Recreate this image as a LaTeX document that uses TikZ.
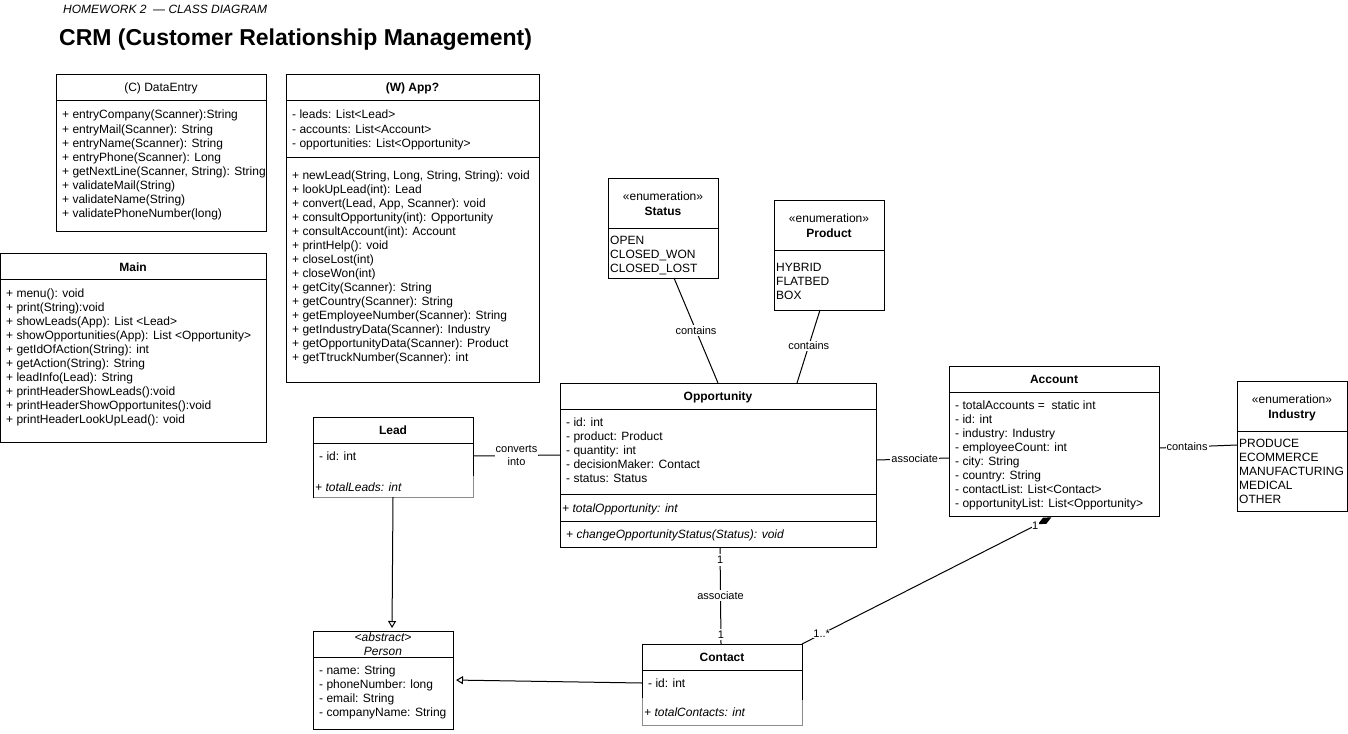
\documentclass[tikz,border=0pt]{standalone}
\usepackage{fontspec}
\setmainfont{Liberation Sans}
\usetikzlibrary{arrows.meta,calc}
\definecolor{lightedge}{HTML}{8C8C8C}
\tikzset{
 cls/.style={draw, line width=1pt, anchor=north west, inner sep=0pt, outer sep=0pt},
 clsnd/.style={anchor=north west, inner sep=0pt, outer sep=0pt},
 txt/.style={anchor=base west, inner sep=0pt, font=\fontsize{12}{14}\selectfont},
 ttl/.style={anchor=base, inner sep=0pt, font=\fontsize{12}{14}\selectfont\bfseries},
 ttlplain/.style={anchor=base, inner sep=0pt, font=\fontsize{12}{14}\selectfont},
 ttlit/.style={anchor=base, inner sep=0pt, font=\fontsize{12}{14}\selectfont\itshape},
 div/.style={line width=1pt},
 edge/.style={line width=1pt, draw=black},
 lbl/.style={font=\fontsize{11}{13}\selectfont, fill=white, inner sep=1pt},
 gen/.style={edge, -{Triangle[open, length=7pt, width=8pt]}, shorten >=3pt},
 comp/.style={edge, -{Diamond[length=15pt, width=7pt]}, shorten >=3pt},
}
\newcommand\umlrows[4]{\foreach \t [count=\i from 0] in {#4} {\node[txt] (#1-\i) at (#2,{#3+14*\i}) {\t};}}
\begin{document}
\begin{tikzpicture}[x=1pt,y=-1pt]
\fill[white] (0,0) rectangle (1348,733);
\useasboundingbox (0,0) rectangle (1348,733);

% titles
\node[anchor=base west, inner sep=0pt, font=\fontsize{12}{14}\selectfont\itshape] (subtitle) at (63,14) {HOMEWORK 2\ \ — CLASS DIAGRAM};
\node[anchor=base west, inner sep=0pt, font=\fontsize{23}{27}\selectfont\bfseries] (title) at (59,46) {CRM (Customer Relationship Management)};

% DataEntry
\node[cls, minimum width=210pt, minimum height=156pt] (dataentry) at (56,75) {};
\draw[div] (56,101) -- (266,101);
\node[ttlplain] (dataentry-t) at (161,92) {(C) DataEntry};
\begin{scope}
\clip (56,101) rectangle (264.5,231);
\umlrows{de}{62}{119}{{+ entryCompany(Scanner):String},{+ entryMail(Scanner): String},{+ entryName(Scanner): String},{+ entryPhone(Scanner): Long},{+ getNextLine(Scanner, String): String},{+ validateMail(String)},{+ validateName(String)},{+ validatePhoneNumber(long)}}
\end{scope}

% App
\node[cls, minimum width=253pt, minimum height=307pt] (app) at (286,75) {};
\draw[div] (286,101) -- (539,101);
\draw[div] (286,157) -- (539,157);
\node[ttl] (app-t) at (412.5,92) {(W) App?};
\umlrows{appa}{292}{119}{{- leads: List<Lead>},{- accounts: List<Account>},{- opportunities: List<Opportunity>}}
\umlrows{appm}{292}{179}{{+ newLead(String, Long, String, String): void},{+ lookUpLead(int): Lead},{+ convert(Lead, App, Scanner): void},{+ consultOpportunity(int): Opportunity},{+ consultAccount(int): Account},{+ printHelp(): void},{+ closeLost(int)},{+ closeWon(int)},{+ getCity(Scanner): String},{+ getCountry(Scanner): String},{+ getEmployeeNumber(Scanner): String},{+ getIndustryData(Scanner): Industry},{+ getOpportunityData(Scanner): Product},{+ getTtruckNumber(Scanner): int}}

% Main
\node[cls, minimum width=265.5pt, minimum height=189pt] (main) at (0.5,253) {};
\draw[div] (0.5,279) -- (266,279);
\node[ttl] (main-t) at (133,271) {Main};
\umlrows{mn}{6}{297}{{+ menu(): void},{+ print(String):void},{+ showLeads(App): List <Lead>},{+ showOpportunities(App): List <Opportunity>},{+ getIdOfAction(String): int},{+ getAction(String): String},{+ leadInfo(Lead): String},{+ printHeaderShowLeads():void},{+ printHeaderShowOpportunites():void},{+ printHeaderLookUpLead(): void}}

% Status
\node[cls, minimum width=110pt, minimum height=100pt] (status) at (608,178) {};
\draw[div] (608,228) -- (718,228);
\node[ttlplain] (status-s) at (663,200) {«enumeration»};
\node[ttl] (status-t) at (663,215) {Status};
\umlrows{st}{610}{244}{{OPEN},{CLOSED\_WON},{CLOSED\_LOST}}

% Product
\node[cls, minimum width=110pt, minimum height=110pt] (product) at (774,200) {};
\draw[div] (774,250) -- (884,250);
\node[ttlplain] (product-s) at (829,222) {«enumeration»};
\node[ttl] (product-t) at (829,237) {Product};
\umlrows{pr}{776}{271}{{HYBRID},{FLATBED},{BOX}}

% Opportunity
\node[cls, minimum width=316pt, minimum height=164pt] (opp) at (560,383) {};
\draw[div] (560,409) -- (876,409);
\draw[div] (560,494) -- (876,494);
\draw[div] (560,521) -- (876,521);
\node[ttl] (opp-t) at (718,400) {Opportunity};
\umlrows{opa}{566}{426}{{- id: int},{- product: Product},{- quantity: int},{- decisionMaker: Contact},{- status: Status}}
\node[txt, font=\fontsize{12}{14}\selectfont\itshape] (opp-s) at (562,512) {+ totalOpportunity: int};
\node[txt, font=\fontsize{12}{14}\selectfont\itshape] (opp-m) at (566,538) {+ changeOpportunityStatus(Status): void};

% Lead
\node[clsnd, minimum width=160pt, minimum height=80pt] (lead) at (313,417) {};
\draw[line width=1pt] (473,476) -- (473,417) -- (313,417) -- (313,497.5);
\draw[line width=1pt, lightedge] (313.5,497) -- (473,497) -- (473,476);
\draw[div] (313,443) -- (473,443);
\node[ttl] (lead-t) at (393,434) {Lead};
\node[txt] (lead-a) at (319,460) {- id: int};
\node[txt, font=\fontsize{12}{14}\selectfont\itshape] (lead-s) at (315,491) {+ totalLeads: int};

% Person
\node[cls, minimum width=140pt, minimum height=98pt] (person) at (313,631) {};
\draw[div] (313,657) -- (453,657);
\node[ttlit] (person-s) at (383,641) {<abstract>};
\node[ttlit] (person-t) at (383,655) {Person};
\umlrows{pe}{319}{674}{{- name: String},{- phoneNumber: long},{- email: String},{- companyName: String}}

% Contact
\node[clsnd, minimum width=160pt, minimum height=81pt] (contact) at (642,644) {};
\draw[line width=1pt] (642,698) -- (642,644) -- (802,644) -- (802,700);
\draw[line width=1pt, lightedge] (802,700) -- (802,725) -- (642,725) -- (642,698);
\draw[div] (642,670) -- (802,670);
\node[ttl] (contact-t) at (722,661) {Contact};
\node[txt] (contact-a) at (648,687) {- id: int};
\node[txt, font=\fontsize{12}{14}\selectfont\itshape] (contact-s) at (644,716) {+ totalContacts: int};

% Account
\node[cls, minimum width=210pt, minimum height=150pt] (account) at (949,366) {};
\draw[div] (949,392) -- (1159,392);
\node[ttl] (account-t) at (1054,383) {Account};
\umlrows{ac}{955}{409}{{- totalAccounts =\ \ static int},{- id: int},{- industry: Industry},{- employeeCount: int},{- city: String},{- country: String},{- contactList: List<Contact>},{- opportunityList: List<Opportunity>}}

% Industry
\node[cls, minimum width=110pt, minimum height=130pt] (industry) at (1237,381) {};
\draw[div] (1237,431) -- (1347,431);
\node[ttlplain] (industry-s) at (1292,403) {«enumeration»};
\node[ttl] (industry-t) at (1292,418) {Industry};
\umlrows{in}{1239}{447}{{PRODUCE},{ECOMMERCE},{MANUFACTURING},{MEDICAL},{OTHER}}

% connectors
\draw[edge] ($(lead.north east)+(0,39)$) -- node[lbl, align=center] {converts\\into} ($(opp.north west)+(0,72)$);
\draw[gen] ($(lead.south west)+(80,0)$) -- ($(person.north west)+(79,0)$);
\draw[gen] ($(contact.north west)+(0,39)$) -- ($(person.north east)+(0,49)$);
\draw[edge] ($(opp.south west)+(160,0)$) --
  node[lbl, pos=0.134, inner sep=2pt] {1}
  node[lbl, pos=0.5] {associate}
  node[lbl, pos=0.9, inner sep=2pt] {1}
  ($(contact.north west)+(79,0)$);
\draw[comp] (contact.north east) --
  node[lbl, pos=0.078, inner sep=0.5pt] {1..*}
  node[lbl, pos=0.925, inner sep=0.5pt] {1}
  ($(account.south west)+(105,0)$);
\draw[edge] ($(opp.north east)+(0,77)$) -- node[lbl, pos=0.53] {associate} ($(account.north west)+(0,92)$);
\draw[edge] ($(account.north east)+(0,82)$) -- node[lbl, pos=0.36] {contains} ($(industry.north west)+(0,64)$);
\draw[edge] ($(status.south west)+(66,0)$) -- node[lbl, pos=0.5] {contains} ($(opp.north west)+(158,0)$);
\draw[edge] ($(product.south west)+(46,0)$) -- node[lbl, pos=0.49] {contains} ($(opp.north west)+(237,0)$);
\end{tikzpicture}
\end{document}
